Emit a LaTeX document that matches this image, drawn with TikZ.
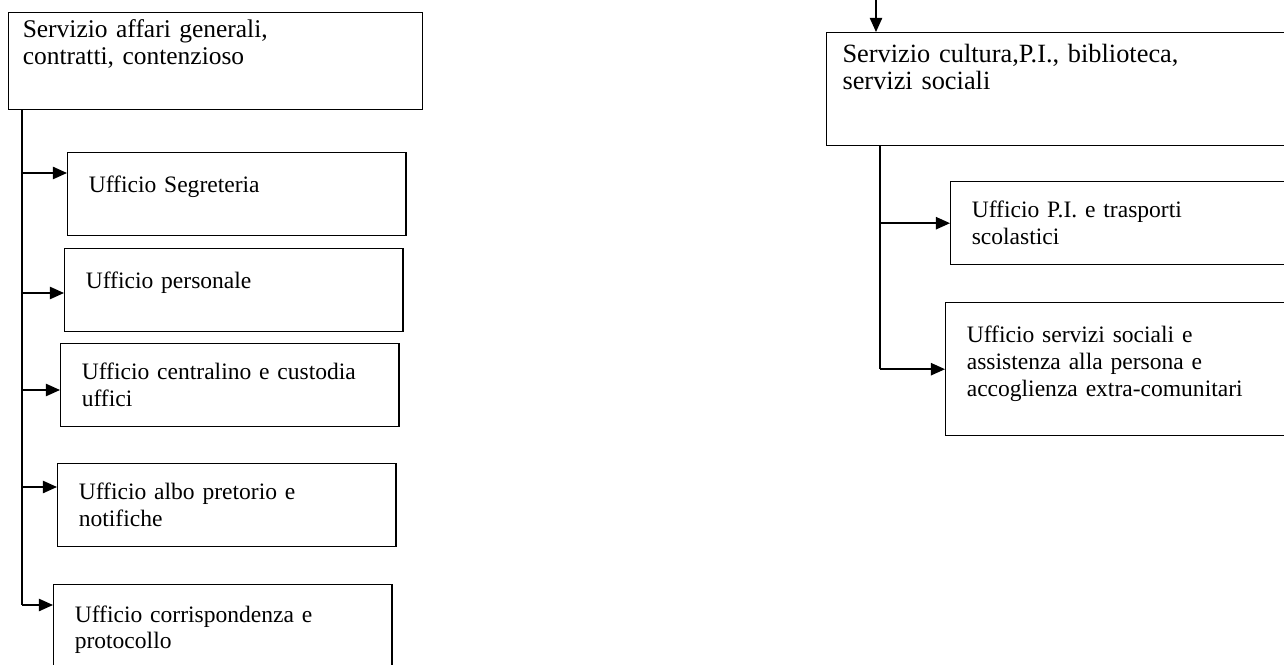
\documentclass[tikz,border=0pt]{standalone}
\usepackage{fontspec}
\setmainfont{Liberation Serif}
\usetikzlibrary{arrows.meta,calc}

\tikzset{
  unit/.style={draw, line width=0.8pt, anchor=north west, align=left,
    font=\fontsize{13.4}{15.3}\selectfont, inner xsep=12pt, inner ysep=4pt,
    text width=5.92cm, minimum height=1.66cm},
  head/.style={unit, font=\fontsize{14.5}{15.5}\selectfont, inner xsep=8pt},
  link/.style={line width=0.8pt, -{Triangle[length=8pt,width=7pt]}},
  trunk/.style={line width=0.8pt}
}

\begin{document}
\begin{tikzpicture}[x=0.02cm, y=-0.02cm]

\useasboundingbox (0,0) rectangle (1284,665);

% =========================
% left branch
% =========================
\node[head, text width=7.72cm, minimum height=1.92cm] (affari) at (8,12)
  {Servizio affari generali,\\ contratti, contenzioso\\[6pt] \mbox{}};

\node[unit] (seg)  at (67,152) {Ufficio Segreteria\\[-4pt] \mbox{}};
\node[unit] (pers) at (64,248) {Ufficio personale\\[-4pt] \mbox{}};
\node[unit] (cent) at (60,343) {Ufficio centralino e custodia\\ uffici};
\node[unit] (albo) at (57,463) {Ufficio albo pretorio e\\ notifiche};
\node[unit, minimum height=1.8cm] (corr) at (53,584) {Ufficio corrispondenza e\\ protocollo};

% entry points on the boxes
\coordinate (seg-in)  at ($(seg.north west)+(0,21)$);
\coordinate (pers-in) at ($(pers.north west)+(0,45)$);
\coordinate (cent-in) at ($(cent.north west)+(0,47)$);
\coordinate (albo-in) at ($(albo.north west)+(0,24)$);
\coordinate (corr-in) at ($(corr.north west)+(0,21)$);

\coordinate (lt) at ($(affari.south west)+(14,0)$);
\draw[trunk] (lt) -- (lt |- corr-in);
\foreach \n in {seg,pers,cent,albo,corr}
  \draw[link] (lt |- \n-in) -- (\n-in);

% =========================
% right branch
% =========================
\node[head, font=\fontsize{15}{15.5}\selectfont, inner xsep=9pt, text width=8.76cm, minimum height=2.26cm] (cultura) at (826,32)
  {Servizio cultura,P.I., biblioteca,\\ servizi sociali\\[10pt] \mbox{}};

\node[unit, text width=6.36cm] (trasp)   at (950,181) {Ufficio P.I. e trasporti\\ scolastici};
\node[unit, text width=6.36cm, minimum height=2.66cm] (sociali) at (945,302)
  {Ufficio servizi sociali e\\ assistenza alla persona e\\ accoglienza extra-comunitari\\[-6pt] \mbox{}};

\coordinate (top) at (876,-5);
\draw[link] (top) -- (top |- cultura.north);

\coordinate (rt) at ($(cultura.south west)+(54,0)$);
\draw[trunk] (rt) -- (rt |- sociali.west);
\foreach \n in {trasp,sociali}
  \draw[link] (rt |- \n.west) -- (\n.west);

\end{tikzpicture}
\end{document}
